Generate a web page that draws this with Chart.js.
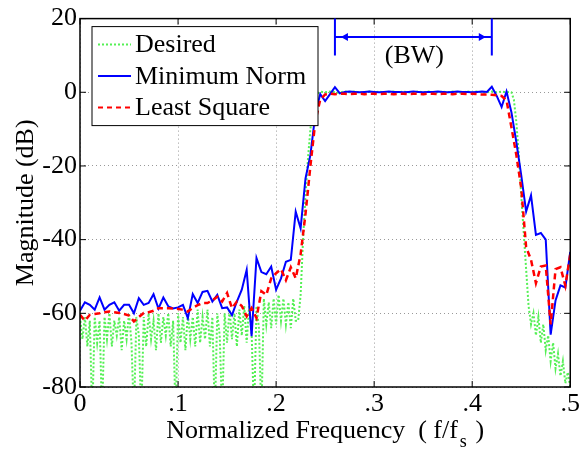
<!DOCTYPE html>
<html>
<head>
<meta charset="utf-8">
<script src="https://cdn.jsdelivr.net/npm/chart.js@4.4.0/dist/chart.umd.min.js"></script>
<style>
  html, body { margin: 0; padding: 0; background: #fff; }
  #wrap { width: 582px; height: 450px; }
</style>
</head>
<body>
<div id="wrap"><canvas id="grafico" width="582" height="450"></canvas></div>
<script>
// Dados
const seriesNames = ['Desired', 'Minimum Norm', 'Least Square'];
const xTickLabels = ['0', '.1', '.2', '.3', '.4', '.5'];
const yTickLabels = ['-80', '-60', '-40', '-20', '0', '20'];
const bwEdges = [0.26, 0.42];

// frequencias (passo 0.005) para Minimum Norm e Least Square
const freq = Array.from({ length: 101 }, (_, i) => +(i * 0.005).toFixed(4));

const minimumNorm = [
  -59.3, -57, -57.7, -59, -55.7, -59, -57.7, -57, -59.3, -57.7,
  -57.7, -60, -55.9, -57.7, -57.2, -54.8, -58.7, -55.7, -58.1, -58.7,
  -58.4, -57.7, -61.3, -54.8, -57.2, -54.2, -53.9, -56.8, -55, -58.6,
  -58.4, -60.5, -56.8, -53.6, -48.2, -66.2, -45, -48.8, -49.4, -47.3,
  -53.6, -50.5, -46, -45.5, -32.4, -36.9, -23.4, -17, -6, -0.5,
  -2.4, -0.5, 1.4, -0.3, 0.1, 0.2, 0.1, 0, 0.1, 0.2,
  0.1, 0, 0.1, 0.2, 0.1, 0.1, 0, 0.1, 0.2, 0.1,
  0, 0.1, 0.1, 0.2, 0.1, 0, 0.1, 0.2, 0.1, 0.1,
  0, 0.1, 0.2, 0.1, 1.5, -1, -4, 0.2, -5.4, -13.5,
  -22.5, -32.4, -28, -38.7, -38.2, -40, -65.8, -56.5, -52.4, -53,
  -43.3
];

const leastSquare = [
  -60.4, -62, -60.4, -60.2, -60, -59.7, -59.5, -59.7, -59.9, -60.2,
  -60.6, -62.2, -61, -59.9, -59.7, -59.3, -58.6, -58.6, -58.6, -58.7,
  -58.8, -59, -59.5, -58.5, -57.8, -57.2, -57.2, -56.5, -55.5, -56.8,
  -54.5, -58.6, -56.8, -58, -60.8, -58.6, -61.3, -54, -55, -50.5,
  -49.1, -48, -51, -47.5, -50.5, -44, -33, -20, -8, -2,
  -0.6, -0.4, -0.5, -0.4, -0.4, -0.5, -0.4, -0.4, -0.5, -0.4,
  -0.4, -0.5, -0.4, -0.4, -0.5, -0.4, -0.4, -0.5, -0.4, -0.4,
  -0.5, -0.4, -0.4, -0.5, -0.4, -0.4, -0.5, -0.4, -0.4, -0.5,
  -0.4, -0.5, -0.6, -0.6, -0.7, -0.8, -1, -2.2, -9.5, -17,
  -26, -42, -45.5, -51.8, -47.3, -47, -63, -48, -47.5, -52.5,
  -44
];

// frequencias (passo 0.0025) para a resposta desejada
const freqDesired = Array.from({ length: 201 }, (_, i) => +(i * 0.0025).toFixed(4));

const desired = [
  -61, -67, -61, -69, -62, -88, -61, -68, -62, -88,
  -61, -67, -60, -69, -62, -66, -61, -70, -62, -67,
  -60, -68, -88, -61, -66, -88, -61, -69, -60, -67,
  -62, -70, -60, -68, -61, -66, -60, -69, -62, -88,
  -60, -68, -61, -70, -60, -67, -61, -69, -59, -68,
  -61, -67, -59, -69, -61, -88, -60, -66, -88, -60,
  -68, -59, -67, -60, -69, -59, -66, -58, -68, -58,
  -65, -88, -58, -64, -88, -56, -63, -57, -64, -56,
  -63, -55, -62, -56, -63, -57, -64, -56, -62, -62,
  -55, -40, -28, -18, -10, -4, -1.2, -0.3, 0.2, 0.1,
  0, 0.1, 0.2, 0.1, 0, -0.1, 0, 0.1, 0.2, 0.1,
  0, 0.1, 0.2, 0.1, 0, -0.1, 0, 0.1, 0.2, 0.1,
  0, 0.1, 0.2, 0.1, 0, -0.1, 0, 0.1, 0.2, 0.1,
  0, 0.1, 0.2, 0.1, 0, -0.1, 0, 0.1, 0.2, 0.1,
  0, 0.1, 0.2, 0.1, 0, -0.1, 0, 0.1, 0.2, 0.1,
  0, 0.1, 0.2, 0.1, 0, -0.1, 0, 0.1, 0.2, 0.1,
  0, 0.1, 0.2, 0.1, 0, -0.1, 0, 0.1, 0.2, 0.1,
  0, 0.1, 0.2, 0.1, 0, 0.1, 0, -2, -8, -17,
  -28, -38, -48, -58, -63, -60, -66, -61, -68, -63,
  -70, -66, -73, -68, -75, -71, -77, -73, -79, -76,
  -80
];

const FONTE = '"Liberation Serif", "DejaVu Serif", serif';
const verde = '#55f055';
const azul = '#0000ff';
const vermelho = '#ff0000';

function pontos(xs, ys) {
  return xs.map((x, i) => ({ x: x, y: ys[i] }));
}

// Plugin: caixa, ticks para dentro, anotacao BW, legenda e titulos
const extras = {
  id: 'extras',
  afterDatasetsDraw(chart) {
    const ctx = chart.ctx;
    const a = chart.chartArea;
    const sx = chart.scales.x;
    const sy = chart.scales.y;
    ctx.save();

    // caixa
    ctx.strokeStyle = '#000';
    ctx.lineWidth = 1.5;
    ctx.strokeRect(a.left, a.top, a.right - a.left, a.bottom - a.top);

    // ticks para dentro
    ctx.lineWidth = 1;
    sx.ticks.forEach(t => {
      const px = sx.getPixelForValue(t.value);
      ctx.beginPath();
      ctx.moveTo(px, a.bottom); ctx.lineTo(px, a.bottom - 6);
      ctx.moveTo(px, a.top); ctx.lineTo(px, a.top + 6);
      ctx.stroke();
    });
    sy.ticks.forEach(t => {
      const py = sy.getPixelForValue(t.value);
      ctx.beginPath();
      ctx.moveTo(a.left, py); ctx.lineTo(a.left + 6, py);
      ctx.moveTo(a.right, py); ctx.lineTo(a.right - 6, py);
      ctx.stroke();
    });

    // anotacao (BW)
    const x1 = sx.getPixelForValue(bwEdges[0]);
    const x2 = sx.getPixelForValue(bwEdges[1]);
    const yTop = sy.getPixelForValue(20);
    const yBot = sy.getPixelForValue(10);
    const yArr = sy.getPixelForValue(15);
    ctx.strokeStyle = azul;
    ctx.fillStyle = azul;
    ctx.lineWidth = 2;
    ctx.beginPath();
    ctx.moveTo(x1, yTop); ctx.lineTo(x1, yBot);
    ctx.moveTo(x2, yTop); ctx.lineTo(x2, yBot);
    ctx.moveTo(x1, yArr); ctx.lineTo(x2, yArr);
    ctx.stroke();
    ctx.beginPath();
    ctx.moveTo(x1 + 6, yArr); ctx.lineTo(x1 + 13, yArr - 4); ctx.lineTo(x1 + 13, yArr + 4); ctx.closePath();
    ctx.moveTo(x2 - 6, yArr); ctx.lineTo(x2 - 13, yArr - 4); ctx.lineTo(x2 - 13, yArr + 4); ctx.closePath();
    ctx.fill();
    ctx.fillStyle = '#000';
    ctx.font = '26px ' + FONTE;
    ctx.textAlign = 'center';
    ctx.textBaseline = 'middle';
    ctx.fillText('(BW)', sx.getPixelForValue(0.341), sy.getPixelForValue(9.7));

    // legenda
    const lx = a.left + 12, ly = a.top + 8, lw = 226, lh = 99;
    ctx.fillStyle = '#fff';
    ctx.fillRect(lx, ly, lw, lh);
    ctx.strokeStyle = '#000';
    ctx.lineWidth = 1;
    ctx.strokeRect(lx, ly, lw, lh);
    const estilos = [
      { cor: verde, larg: 2, dash: [2, 2] },
      { cor: azul, larg: 2, dash: [] },
      { cor: vermelho, larg: 2, dash: [5, 4] }
    ];
    seriesNames.forEach((nome, i) => {
      const yy = ly + 18 + i * 31.5;
      ctx.strokeStyle = estilos[i].cor;
      ctx.lineWidth = estilos[i].larg;
      ctx.setLineDash(estilos[i].dash);
      ctx.beginPath();
      ctx.moveTo(lx + 6, yy); ctx.lineTo(lx + 39, yy);
      ctx.stroke();
      ctx.setLineDash([]);
      ctx.fillStyle = '#000';
      ctx.textAlign = 'left';
      ctx.textBaseline = 'middle';
      ctx.fillText(nome, lx + 43, yy + 1);
    });

    // titulos dos eixos
    ctx.fillStyle = '#000';
    ctx.textBaseline = 'alphabetic';
    const parte1 = 'Normalized Frequency  ( f/f';
    const parte2 = ' )';
    ctx.font = '26px ' + FONTE;
    const w1 = ctx.measureText(parte1).width;
    const w3 = ctx.measureText(parte2).width;
    ctx.font = '18px ' + FONTE;
    const w2 = ctx.measureText('s').width + 4;
    const total = w1 + w2 + w3;
    const xx = (a.left + a.right) / 2 - total / 2;
    ctx.textAlign = 'left';
    ctx.font = '26px ' + FONTE;
    ctx.fillText(parte1, xx, 438);
    ctx.font = '18px ' + FONTE;
    ctx.fillText('s', xx + w1 + 2, 447);
    ctx.font = '26px ' + FONTE;
    ctx.fillText(parte2, xx + w1 + w2, 438);

    ctx.save();
    ctx.translate(26, (a.top + a.bottom) / 2);
    ctx.rotate(-Math.PI / 2);
    ctx.textAlign = 'center';
    ctx.textBaseline = 'middle';
    ctx.fillText('Magnitude (dB)', 0, 0);
    ctx.restore();

    ctx.restore();
  }
};

const ctx = document.getElementById('grafico').getContext('2d');
const grafico = new Chart(ctx, {
  type: 'line',
  data: {
    datasets: [
      {
        label: seriesNames[0],
        data: pontos(freqDesired, desired),
        borderColor: verde,
        borderWidth: 2,
        borderDash: [2, 2],
        pointRadius: 0,
        tension: 0,
        order: 3
      },
      {
        label: seriesNames[1],
        data: pontos(freq, minimumNorm),
        borderColor: azul,
        borderWidth: 2,
        pointRadius: 0,
        tension: 0,
        order: 2
      },
      {
        label: seriesNames[2],
        data: pontos(freq, leastSquare),
        borderColor: vermelho,
        borderWidth: 2.5,
        borderDash: [6, 4],
        pointRadius: 0,
        tension: 0,
        order: 1
      }
    ]
  },
  options: {
    responsive: false,
    animation: false,
    layout: { padding: { left: 0, top: 16, right: 10, bottom: 0 } },
    plugins: {
      legend: { display: false },
      tooltip: { enabled: false }
    },
    scales: {
      x: {
        type: 'linear',
        min: 0,
        max: 0.5,
        afterFit: s => { s.height = 63; },
        ticks: {
          stepSize: 0.1,
          maxRotation: 0,
          autoSkip: false,
          padding: 2,
          color: '#000',
          font: { family: FONTE, size: 26 },
          callback: (v, i) => xTickLabels[i]
        },
        grid: { color: '#999', lineWidth: 1, drawTicks: false },
        border: { display: false, dash: [1, 3] }
      },
      y: {
        min: -80,
        max: 20,
        afterFit: s => { s.width = 80; },
        ticks: {
          stepSize: 20,
          padding: 3,
          color: '#000',
          font: { family: FONTE, size: 26 },
          callback: (v, i) => yTickLabels[i]
        },
        grid: { color: '#999', lineWidth: 1, drawTicks: false },
        border: { display: false, dash: [1, 3] }
      }
    }
  },
  plugins: [extras]
});
</script>
</body>
</html>
